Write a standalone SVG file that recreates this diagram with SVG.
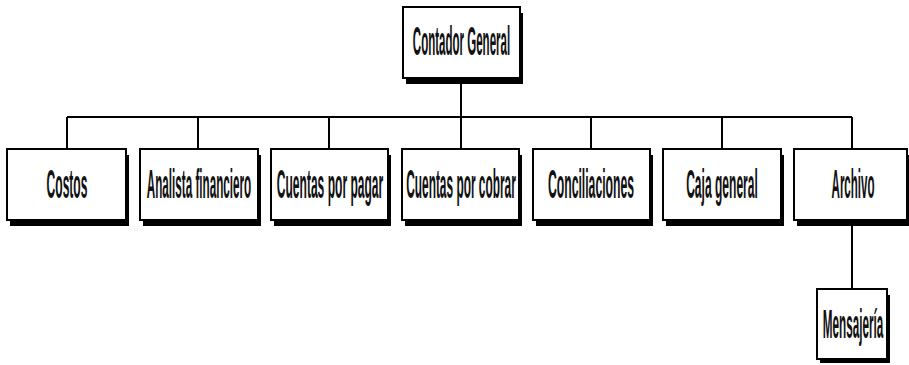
<svg xmlns="http://www.w3.org/2000/svg" width="909" height="365" viewBox="0 0 909 365">
<style>
.sh{fill:#000}
.bx{fill:#fff;stroke:#000;stroke-width:2}
.t{font-family:"Liberation Sans",Arial,sans-serif;font-size:41px;font-weight:bold;fill:#111;text-anchor:middle}
.c{stroke:#000;stroke-width:2;fill:none}
</style>
<rect width="909" height="365" fill="#fff"/>
<g id="connectors">
<path class="c" d="M461 78V117M67 117H852M67 117V149M198 117V149M329 117V149M461 117V149M591 117V149M722 117V149M852 117V149M852 226V289"/>
</g>
<g id="n0"><rect class="sh" x="406" y="13" width="117" height="71"/><rect class="bx" x="403" y="7" width="117" height="71"/><text class="t" transform="translate(461.5 55) scale(0.281 1)">Contador General</text></g>
<g id="n1"><rect class="sh" x="10" y="155" width="119" height="71"/><rect class="bx" x="7" y="149" width="119" height="71"/><text class="t" transform="translate(67 198) scale(0.294 1)">Costos</text></g>
<g id="n2"><rect class="sh" x="143" y="155" width="118" height="71"/><rect class="bx" x="140" y="149" width="118" height="71"/><text class="t" transform="translate(199 198) scale(0.285 1)">Analista financiero</text></g>
<g id="n3"><rect class="sh" x="274" y="155" width="117" height="71"/><rect class="bx" x="271" y="149" width="117" height="71"/><text class="t" transform="translate(330 198) scale(0.294 1)">Cuentas por pagar</text></g>
<g id="n4"><rect class="sh" x="405" y="155" width="117" height="71"/><rect class="bx" x="402" y="149" width="117" height="71"/><text class="t" transform="translate(461 198) scale(0.29 1)">Cuentas por cobrar</text></g>
<g id="n5"><rect class="sh" x="536" y="155" width="117" height="71"/><rect class="bx" x="533" y="149" width="117" height="71"/><text class="t" transform="translate(591 198) scale(0.298 1)">Conciliaciones</text></g>
<g id="n6"><rect class="sh" x="666" y="155" width="118" height="71"/><rect class="bx" x="663" y="149" width="118" height="71"/><text class="t" transform="translate(722 198) scale(0.294 1)">Caja general</text></g>
<g id="n7"><rect class="sh" x="797" y="155" width="113" height="71"/><rect class="bx" x="794" y="149" width="113" height="71"/><text class="t" transform="translate(853 198) scale(0.281 1)">Archivo</text></g>
<g id="n8"><rect class="sh" x="820" y="295" width="70" height="68"/><rect class="bx" x="817" y="289" width="70" height="70"/><text class="t" transform="translate(853 338) scale(0.285 1)">Mensajería</text></g>
</svg>
